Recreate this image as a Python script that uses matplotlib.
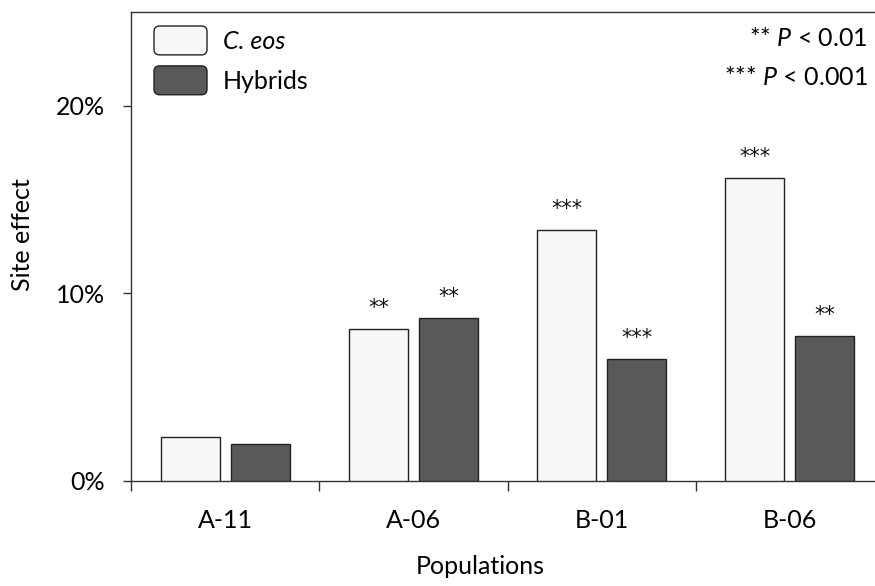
import matplotlib
matplotlib.use("Agg")
import matplotlib.pyplot as plt
import numpy as np
from matplotlib.patches import Patch, FancyBboxPatch
from matplotlib.legend_handler import HandlerPatch

# Data
populations = ["A-11", "A-06", "B-01", "B-06"]
series_names = ["C. eos", "Hybrids"]
ceos_values = [2.35, 8.10, 13.39, 16.16]      # site effect (%)
hybrid_values = [1.97, 8.69, 6.51, 7.73]      # site effect (%)
ceos_signif = ["", "**", "***", "***"]
hybrid_signif = ["", "**", "***", "**"]
y_ticks = [0, 10, 20]
y_tick_labels = ["0%", "10%", "20%"]

FONT = "Lato"
plt.rcParams["font.family"] = [FONT, "DejaVu Sans"]
plt.rcParams["mathtext.fontset"] = "custom"
plt.rcParams["mathtext.it"] = f"{FONT}:italic"
plt.rcParams["mathtext.rm"] = FONT

light = "#f7f7f7"
dark = "#595959"
edge = "#222222"
spine_col = "#333333"

fig = plt.figure(figsize=(8.75, 5.86), dpi=100)
W, H = 875, 586
ax = fig.add_axes([131 / W, 1 - 481 / H, 753 / W, 469 / H])

x = np.arange(len(populations))
bw = 0.314
off = 0.186
bars_c = ax.bar(x - off, ceos_values, bw, color=light, edgecolor=edge, linewidth=1.0, zorder=3)
bars_h = ax.bar(x + off, hybrid_values, bw, color=dark, edgecolor=edge, linewidth=1.0, zorder=3)

# significance stars above the bars
for bars, marks in ((bars_c, ceos_signif), (bars_h, hybrid_signif)):
    for b, m in zip(bars, marks):
        if m:
            ax.annotate(m, (b.get_x() + b.get_width() / 2, b.get_height()),
                        xytext=(0, 15), textcoords="offset points",
                        ha="center", va="center", fontsize=15, color="#111111",
                        family=["DejaVu Sans"])

ax.set_xlim(-0.5, 3.5)
ax.set_ylim(0, 25)

# x: boundary ticks without labels, labels at group centres
ax.set_xticks(np.arange(-0.5, 4.0, 1.0))
ax.set_xticklabels([])
ax.set_xticks(x, minor=True)
ax.set_xticklabels(populations, minor=True, fontsize=18)
ax.tick_params(axis="x", which="major", direction="out", length=7.5, width=1.0, color=spine_col)
ax.tick_params(axis="x", which="minor", length=0, pad=20)

ax.set_yticks(y_ticks)
ax.set_yticklabels(y_tick_labels, fontsize=18)
ax.tick_params(axis="y", direction="out", length=6, width=1.0, color=spine_col, pad=13)

for s in ax.spines.values():
    s.set_color(spine_col)
    s.set_linewidth(1.0)

ax.set_ylabel("Site effect", fontsize=18, va="center")
ax.yaxis.set_label_coords((23 - 131) / 753, (481 - 235) / 469)
ax.set_xlabel("Populations", fontsize=18, va="center")
ax.xaxis.set_label_coords((480 - 131) / 753, (481 - 567) / 469)


class RoundedHandler(HandlerPatch):
    def create_artists(self, legend, orig_handle, xdescent, ydescent,
                       width, height, fontsize, trans):
        p = FancyBboxPatch((-xdescent, -ydescent), width, height,
                           boxstyle="round,pad=0,rounding_size=4",
                           facecolor=orig_handle.get_facecolor(),
                           edgecolor=edge, linewidth=1.0, transform=trans)
        return [p]


handles = [Patch(facecolor=light), Patch(facecolor=dark)]
leg = ax.legend(handles, series_names, loc="upper left",
                bbox_to_anchor=(154 / W, 1 - 26 / H), bbox_transform=fig.transFigure,
                frameon=False, fontsize=18, borderpad=0, borderaxespad=0,
                handlelength=2.12, handleheight=1.4, labelspacing=0.44,
                handletextpad=0.64,
                handler_map={Patch: RoundedHandler()})
leg.get_texts()[0].set_fontstyle("italic")

# significance key
fig.text(868 / W, 1 - 38 / H, r"** $P$ < 0.01", ha="right", va="center", fontsize=18)
fig.text(868 / W, 1 - 77 / H, r"*** $P$ < 0.001", ha="right", va="center", fontsize=18)

fig.savefig("out.png", dpi=100)
